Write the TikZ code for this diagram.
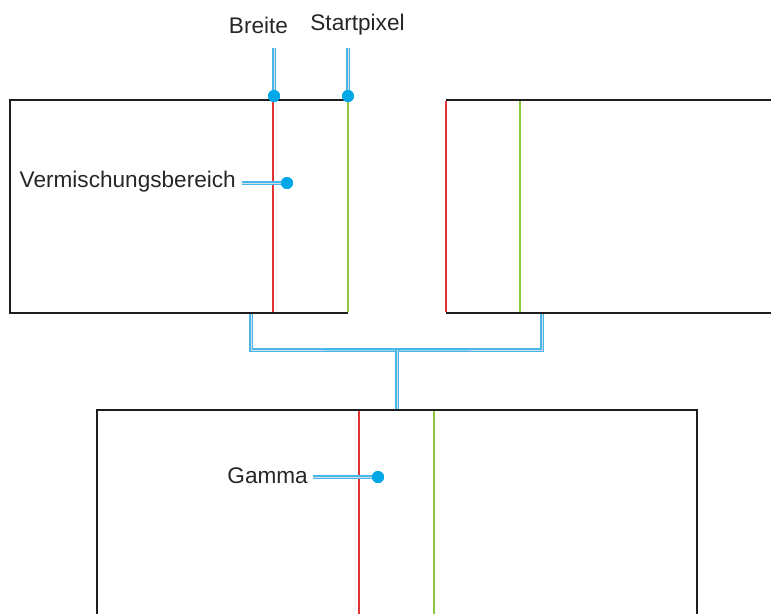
\documentclass[tikz,border=0pt]{standalone}
\usepackage{fontspec}
\setmainfont{Liberation Sans}
\definecolor{boxline}{RGB}{30,30,30}
\definecolor{redline}{RGB}{226,52,52}
\definecolor{greenline}{RGB}{141,198,63}
\definecolor{callblue}{RGB}{70,182,235}
\definecolor{dotblue}{RGB}{0,168,232}
\begin{document}
\begin{tikzpicture}[x=1pt,y=-1pt,
  frame/.style={draw=boxline,line width=1.8pt},
  redmark/.style={draw=redline,line width=1.8pt},
  greenmark/.style={draw=greenline,line width=1.8pt},
  callout/.style={draw=callblue,double=callblue!30!gray!30!white,double distance=1pt,line width=1.4pt},
  lbl/.style={font=\fontsize{22.6}{27}\selectfont,text=black!85,inner sep=0pt},
  dot/.style={circle,fill=dotblue,minimum size=12pt,inner sep=0pt}]
\useasboundingbox (0,0) rectangle (771,614);
% top left box
\draw[frame] (348,100) -- (10,100) -- (10,313) -- (348,313);
\draw[redmark] (273,101) -- (273,312);
\draw[greenmark] (348,101) -- (348,312);
% top right box
\draw[frame] (771,100) -- (446,100);
\draw[frame] (771,313) -- (446,313);
\draw[redmark] (446,101) -- (446,312);
\draw[greenmark] (520,101) -- (520,312);
% bottom box
\draw[frame] (97,614) -- (97,410) -- (697,410) -- (697,614);
\draw[redmark] (359,411) -- (359,614);
\draw[greenmark] (434,411) -- (434,614);
% connector
\coordinate (la) at (251,314);
\coordinate (ra) at (542,314);
\coordinate (mid) at (397,350);
\coordinate (ba) at (397,409);
\draw[callout] (la) |- (mid) -| (ra);
\draw[callout] (mid) -- (ba);
% labels
\node[lbl] (breite) at (258.5,25) {Breite};
\node[lbl] (start) at (357.5,25) {Startpixel};
\node[lbl,anchor=east] (verm) at (236,182) {Vermischungsbereich};
\node[lbl,anchor=east] (gamma) at (308,476) {Gamma};
\coordinate (b0) at (274,48);
\coordinate (s0) at (348,48);
\coordinate (v0) at (242,183);
\coordinate (g0) at (313,477);
\node[dot] (bd) at (274,96) {};
\node[dot] (sd) at (348,96) {};
\node[dot] (vd) at (287,183) {};
\node[dot] (gd) at (378,477) {};
\draw[callout] (b0) -- (bd.center);
\draw[callout] (s0) -- (sd.center);
\draw[callout] (v0) -- (vd.center);
\draw[callout] (g0) -- (gd.center);
\node[dot] at (bd) {};
\node[dot] at (sd) {};
\node[dot] at (vd) {};
\node[dot] at (gd) {};
\end{tikzpicture}
\end{document}
